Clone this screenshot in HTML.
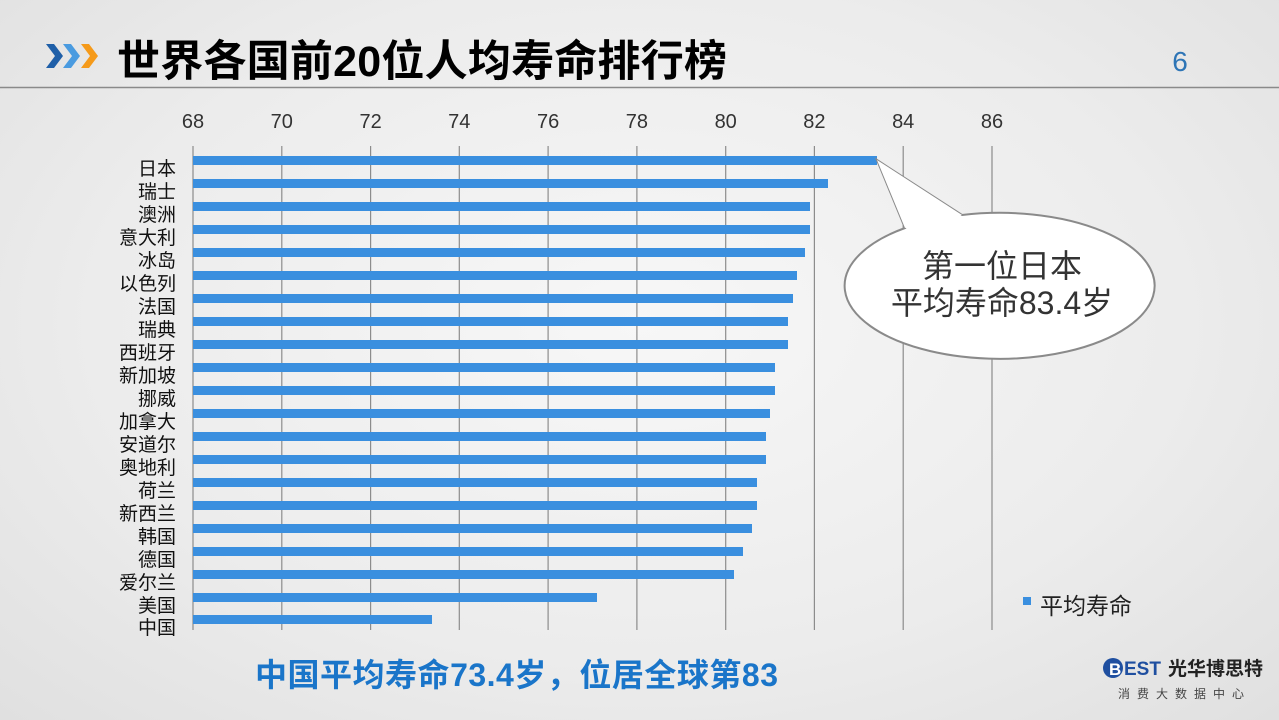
<!DOCTYPE html>
<html><head><meta charset="utf-8"><style>
html,body{margin:0;padding:0;}
body{width:1279px;height:720px;overflow:hidden;background:radial-gradient(ellipse at 50% 45%,#f7f7f7 0%,#ececec 60%,#e0e0e0 100%);font-family:"Liberation Sans","Noto Sans CJK SC",sans-serif;}
</style></head><body>
<svg width="1279" height="720" xmlns="http://www.w3.org/2000/svg" style="position:absolute;left:0;top:0;font-family:'Liberation Sans','Noto Sans CJK SC',sans-serif">
<polygon points="46,44 54,44 63,56 54,68 46,68 55,56" fill="#1f5fa8"/>
<polygon points="63,44 71,44 80,56 71,68 63,68 72,56" fill="#4a9be0"/>
<polygon points="81,44 89,44 98,56 89,68 81,68 90,56" fill="#f59a1a"/>
<text x="117" y="76" font-size="43" font-weight="bold" fill="#000" textLength="610">世界各国前20位人均寿命排行榜</text>
<text x="1180" y="71" font-size="28" fill="#2e75b6" text-anchor="middle">6</text>
<line x1="0" y1="87.5" x2="1279" y2="87.5" stroke="#8a8a8a" stroke-width="1.5"/>
<g stroke="#8c8c8c" stroke-width="1.2">
<line x1="193" y1="146" x2="193" y2="630"/><line x1="281.8" y1="146" x2="281.8" y2="630"/><line x1="370.6" y1="146" x2="370.6" y2="630"/><line x1="459.3" y1="146" x2="459.3" y2="630"/><line x1="548.1" y1="146" x2="548.1" y2="630"/><line x1="636.9" y1="146" x2="636.9" y2="630"/><line x1="725.7" y1="146" x2="725.7" y2="630"/><line x1="814.4" y1="146" x2="814.4" y2="630"/><line x1="903.2" y1="146" x2="903.2" y2="630"/><line x1="992" y1="146" x2="992" y2="630"/>
</g>
<g font-size="20" fill="#333" text-anchor="middle">
<text x="193" y="128">68</text><text x="281.8" y="128">70</text><text x="370.6" y="128">72</text><text x="459.3" y="128">74</text><text x="548.1" y="128">76</text><text x="636.9" y="128">78</text><text x="725.7" y="128">80</text><text x="814.4" y="128">82</text><text x="903.2" y="128">84</text><text x="992" y="128">86</text>
</g>
<g fill="#3a8fdf">
<rect x="193" y="156" width="684" height="9"/>
<rect x="193" y="179" width="635" height="9"/>
<rect x="193" y="202" width="617" height="9"/>
<rect x="193" y="225" width="617" height="9"/>
<rect x="193" y="248" width="612" height="9"/>
<rect x="193" y="271" width="604" height="9"/>
<rect x="193" y="294" width="600" height="9"/>
<rect x="193" y="317" width="595" height="9"/>
<rect x="193" y="340" width="595" height="9"/>
<rect x="193" y="363" width="582" height="9"/>
<rect x="193" y="386" width="582" height="9"/>
<rect x="193" y="409" width="577" height="9"/>
<rect x="193" y="432" width="573" height="9"/>
<rect x="193" y="455" width="573" height="9"/>
<rect x="193" y="478" width="564" height="9"/>
<rect x="193" y="501" width="564" height="9"/>
<rect x="193" y="524" width="559" height="9"/>
<rect x="193" y="547" width="550" height="9"/>
<rect x="193" y="570" width="541" height="9"/>
<rect x="193" y="593" width="404" height="9"/>
<rect x="193" y="615" width="239" height="9"/>
</g>
<g font-size="19" fill="#111" text-anchor="end">
<text x="176" y="175">日本</text><text x="176" y="198">瑞士</text><text x="176" y="221">澳洲</text><text x="176" y="244">意大利</text><text x="176" y="267">冰岛</text><text x="176" y="290">以色列</text><text x="176" y="313">法国</text><text x="176" y="336">瑞典</text><text x="176" y="359">西班牙</text><text x="176" y="382">新加坡</text><text x="176" y="405">挪威</text><text x="176" y="428">加拿大</text><text x="176" y="451">安道尔</text><text x="176" y="474">奥地利</text><text x="176" y="497">荷兰</text><text x="176" y="520">新西兰</text><text x="176" y="543">韩国</text><text x="176" y="566">德国</text><text x="176" y="589">爱尔兰</text><text x="176" y="612">美国</text><text x="176" y="634">中国</text>
</g>
<path d="M877,160 L962,215 A155,73 0 1 1 905,228 Z" fill="#fff" stroke="#8a8a8a" stroke-width="2"/>
<path d="M877,160 L962,215 L905,228 Z" fill="#fff"/>
<text x="1002" y="277" font-size="32" fill="#333" text-anchor="middle">第一位日本</text>
<text x="1002" y="314" font-size="32" fill="#333" text-anchor="middle">平均寿命83.4岁</text>
<rect x="1023" y="597" width="8" height="8" fill="#3a8fdf"/>
<text x="1040" y="614" font-size="23" fill="#222">平均寿命</text>
<text x="255" y="686" font-size="32" font-weight="bold" fill="#1a75c9" textLength="523">中国平均寿命73.4岁，位居全球第83</text>
<circle cx="1113" cy="668" r="10" fill="#1f4fa0"/>
<text x="1109" y="675" font-size="17" font-weight="bold" fill="#fff">B</text>
<text x="1124" y="675" font-size="19" font-weight="bold" fill="#1f4fa0">EST</text>
<text x="1168" y="675" font-size="19" font-weight="bold" fill="#222">光华博思特</text>
<text x="1118" y="698" font-size="12" fill="#444" letter-spacing="7">消费大数据中心</text>
</svg>
</body></html>
